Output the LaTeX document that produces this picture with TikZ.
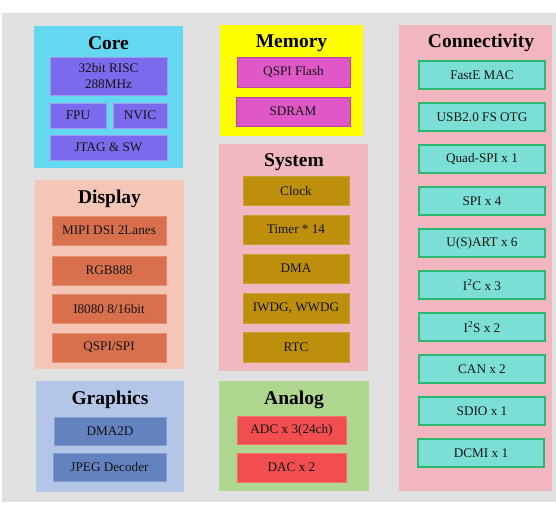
\documentclass[tikz,border=0pt]{standalone}
\usepackage{fontspec}
\setmainfont{Liberation Serif}
\usepackage{xcolor}
\usepackage{tikz}
\usetikzlibrary{positioning}
\definecolor{pagebg}{HTML}{E0E0E0}
\definecolor{corebg}{HTML}{64D8F0}
\definecolor{corefill}{HTML}{7B6AEC}
\definecolor{membg}{HTML}{FFFF00}
\definecolor{memfill}{HTML}{E058C8}
\definecolor{sysbg}{HTML}{F2B8C2}
\definecolor{sysfill}{HTML}{BE8F0C}
\definecolor{connbg}{HTML}{F2B6C0}
\definecolor{connfill}{HTML}{7CDFD5}
\definecolor{connline}{HTML}{2DB870}
\definecolor{dispbg}{HTML}{F5C6B8}
\definecolor{dispfill}{HTML}{D8704E}
\definecolor{gfxbg}{HTML}{B4C6E8}
\definecolor{gfxfill}{HTML}{6482C0}
\definecolor{anabg}{HTML}{AED68E}
\definecolor{anafill}{HTML}{F24E50}

\begin{document}
\begin{tikzpicture}[
  x=1pt, y=-1pt,
  group/.style={rectangle, anchor=north west, inner sep=0pt, outer sep=0pt},
  title/.style={font=\fontsize{19.5}{21}\selectfont\bfseries, text=black},
  unit/.style={
    rectangle, anchor=north west, inner sep=0pt, outer sep=0pt,
    align=center, text=black!92, font=\fontsize{13.2}{16}\selectfont
  },
  cpu/.style={unit, fill=corefill, draw=corefill!70!white, line width=0.6pt},
  mem/.style={unit, fill=memfill, draw=memfill!80!black, line width=0.8pt},
  sys/.style={unit, fill=sysfill, draw=sysfill!85!white, line width=0.6pt},
  conn/.style={unit, fill=connfill, draw=connline, line width=1.2pt,
    minimum width=126, minimum height=28},
  disp/.style={unit, fill=dispfill, draw=dispfill!80!white, line width=0.6pt,
    minimum width=114, minimum height=29},
  gfx/.style={unit, fill=gfxfill, draw=gfxfill!80!white, line width=0.6pt},
  ana/.style={unit, fill=anafill, draw=anafill!80!white, line width=0.6pt}
]
  \useasboundingbox (0,0) rectangle (556,504);
  \fill[pagebg] (2,13) rectangle (556,502);

  % Core
  \node[group, fill=corebg, minimum width=149, minimum height=142] (core) at (34,26) {};
  \node[title] (coret) at (108.5,43) {Core};
  \node[cpu, minimum width=117, minimum height=38] (risc) at (50,57) {32bit RISC\\288MHz};
  \node[cpu, minimum width=56, minimum height=25] (fpu) at (50,103) {FPU};
  \node[cpu, minimum width=54, minimum height=25] (nvic) at (113,103) {NVIC};
  \node[cpu, minimum width=117, minimum height=25] (jtag) at (50,135) {JTAG \& SW};

  % Memory
  \node[group, fill=membg, minimum width=143, minimum height=111] (memory) at (220,25) {};
  \node[title] (memt) at (291.5,43) {Memory};
  \node[mem, minimum width=113, minimum height=30] (flash) at (237,57) {QSPI Flash};
  \node[mem, minimum width=114, minimum height=29] (sdram) at (236,97) {SDRAM};

  % System
  \node[group, fill=sysbg, minimum width=149, minimum height=227] (system) at (219,144) {};
  \node[title] (syst) at (294,162) {System};
  \node[sys, minimum width=106, minimum height=29] (clock) at (243,176) {Clock};
  \node[sys, minimum width=106, minimum height=29] (timer) at (243,215) {Timer * 14};
  \node[sys, minimum width=106, minimum height=29] (dma) at (243,254) {DMA};
  \node[sys, minimum width=106, minimum height=30] (wdg) at (243,293) {IWDG, WWDG};
  \node[sys, minimum width=106, minimum height=30] (rtc) at (243,332) {RTC};

  % Connectivity
  \node[group, fill=connbg, minimum width=153, minimum height=466] (connect) at (399,25) {};
  \node[title] (connt) at (481,43) {Connectivity};
  \node[conn] (mac) at (419,61) {FastE MAC};
  \node[conn] (usb) at (419,103) {USB2.0 FS OTG};
  \node[conn] (qspi) at (419,145) {Quad-SPI x 1};
  \node[conn] (spi) at (419,187) {SPI x 4};
  \node[conn] (usart) at (419,229) {U(S)ART x 6};
  \node[conn] (iic) at (419,271) {I\textsuperscript{2}C x 3};
  \node[conn] (iis) at (419,313) {I\textsuperscript{2}S x 2};
  \node[conn] (can) at (419,355) {CAN x 2};
  \node[conn] (sdio) at (419,397) {SDIO x 1};
  \node[conn] (dcmi) at (418,439) {DCMI x 1};

  % Display
  \node[group, fill=dispbg, minimum width=149, minimum height=189] (display) at (35,180) {};
  \node[title] (dispt) at (109.5,199) {Display};
  \node[disp] (mipi) at (52,216) {MIPI DSI 2Lanes};
  \node[disp] (rgb) at (52,256) {RGB888};
  \node[disp] (i8080) at (52,294) {I8080 8/16bit};
  \node[disp] (qspispi) at (52,333) {QSPI/SPI};

  % Graphics
  \node[group, fill=gfxbg, minimum width=148, minimum height=111] (graphics) at (36,381) {};
  \node[title] (gfxt) at (110,400) {Graphics};
  \node[gfx, minimum width=112, minimum height=28] (dma2d) at (54,417) {DMA2D};
  \node[gfx, minimum width=113, minimum height=28] (jpeg) at (53,453) {JPEG Decoder};

  % Analog
  \node[group, fill=anabg, minimum width=150, minimum height=110] (analog) at (219,381) {};
  \node[title] (anat) at (294,400) {Analog};
  \node[ana, minimum width=109, minimum height=28] (adc) at (237,416) {ADC x 3(24ch)};
  \node[ana, minimum width=109, minimum height=29] (dac) at (237,453) {DAC x 2};
\end{tikzpicture}
\end{document}
